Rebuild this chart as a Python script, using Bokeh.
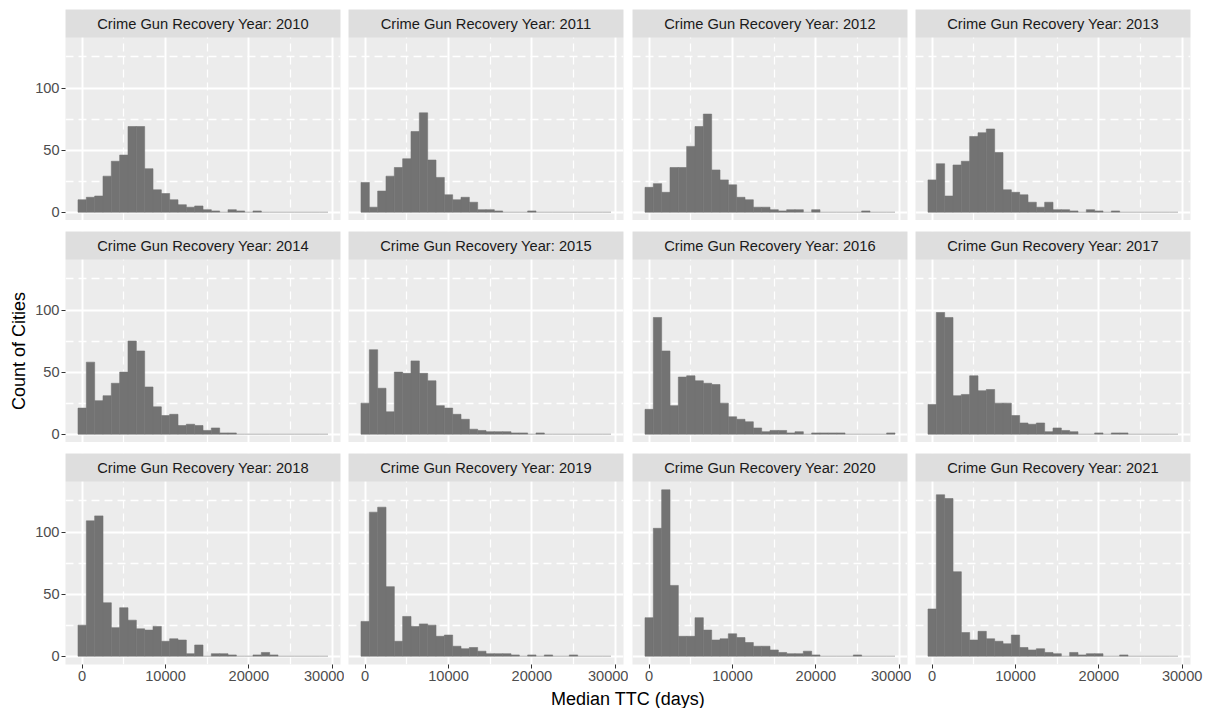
import numpy as np
from bokeh.plotting import figure
from bokeh.layouts import gridplot, column, row
from bokeh.models import FixedTicker, BoxAnnotation, Label, Range1d, ColumnDataSource
from bokeh.embed import file_html
from bokeh.resources import INLINE

# ---------------- data ----------------
YEARS = [2010, 2011, 2012, 2013, 2014, 2015, 2016, 2017, 2018, 2019, 2020, 2021]

BIN_WIDTH = 1000
BIN_CENTERS = list(range(0, 30000, BIN_WIDTH))  # 30 bins, centred on 0 ... 29000

COUNTS_2010 = [10, 12, 13, 29, 41, 46, 69, 69, 35, 18, 15, 10, 6, 4, 5, 2, 1, 0, 2, 1, 0, 1, 0, 0, 0, 0, 0, 0, 0, 0]
COUNTS_2011 = [24, 4, 17, 29, 36, 43, 65, 80, 42, 28, 14, 10, 12, 8, 2, 2, 1, 0, 0, 0, 1, 0, 0, 0, 0, 0, 0, 0, 0, 0]
COUNTS_2012 = [20, 23, 16, 36, 36, 53, 69, 79, 34, 26, 22, 12, 10, 4, 4, 2, 1, 2, 2, 0, 2, 0, 0, 0, 0, 0, 1, 0, 0, 0]
COUNTS_2013 = [26, 39, 13, 38, 41, 61, 64, 67, 48, 18, 16, 14, 8, 4, 8, 2, 2, 1, 0, 2, 1, 0, 1, 0, 0, 0, 0, 0, 0, 0]
COUNTS_2014 = [21, 58, 27, 31, 41, 50, 75, 67, 38, 22, 15, 16, 7, 8, 7, 3, 5, 1, 1, 0, 0, 0, 0, 0, 0, 0, 0, 0, 0, 0]
COUNTS_2015 = [25, 68, 37, 18, 50, 49, 59, 49, 43, 23, 21, 16, 12, 4, 3, 2, 2, 2, 1, 1, 0, 1, 0, 0, 0, 0, 0, 0, 0, 0]
COUNTS_2016 = [20, 94, 67, 23, 46, 47, 43, 41, 40, 25, 14, 12, 10, 5, 2, 3, 3, 1, 2, 0, 1, 1, 1, 1, 0, 0, 0, 0, 0, 1]
COUNTS_2017 = [24, 98, 94, 31, 32, 47, 35, 36, 25, 25, 15, 9, 8, 9, 2, 5, 3, 2, 0, 0, 1, 0, 1, 1, 0, 0, 0, 0, 0, 0]
COUNTS_2018 = [25, 109, 113, 43, 23, 39, 29, 22, 21, 24, 12, 14, 13, 2, 9, 0, 2, 2, 1, 0, 0, 1, 3, 1, 0, 0, 0, 0, 0, 0]
COUNTS_2019 = [28, 116, 120, 56, 12, 32, 24, 26, 25, 16, 17, 8, 6, 7, 4, 2, 2, 2, 1, 0, 1, 0, 1, 0, 0, 1, 0, 0, 0, 0]
COUNTS_2020 = [31, 103, 134, 57, 16, 16, 31, 21, 13, 14, 18, 15, 11, 8, 8, 5, 3, 2, 2, 4, 1, 0, 0, 0, 0, 1, 0, 0, 0, 0]
COUNTS_2021 = [38, 130, 127, 68, 19, 13, 20, 14, 12, 10, 17, 7, 5, 6, 3, 2, 0, 3, 1, 2, 2, 0, 0, 1, 0, 0, 0, 0, 0, 0]

ALL_COUNTS = [COUNTS_2010, COUNTS_2011, COUNTS_2012, COUNTS_2013, COUNTS_2014, COUNTS_2015,
              COUNTS_2016, COUNTS_2017, COUNTS_2018, COUNTS_2019, COUNTS_2020, COUNTS_2021]

STRIP_PREFIX = "Crime Gun Recovery Year: "
X_TITLE = "Median TTC (days)"
Y_TITLE = "Count of Cities"

X_TICKS = [0, 10000, 20000, 30000]
X_TICK_LABELS = ["0", "10000", "20000", "30000"]
X_MINOR = [5000, 15000, 25000]
Y_TICKS = [0, 50, 100]
Y_TICK_LABELS = ["0", "50", "100"]
Y_MINOR = [25, 75, 125]

# ---------------- style ----------------
FONT = "Liberation Sans"
PANEL_BG = "#ececec"
STRIP_BG = "#dedede"
BAR_COLOR = "#737373"
TICK_COLOR = "#333333"
TICK_LABEL_COLOR = "#4d4d4d"
TICK_FONT = "14.6px"
STRIP_FONT = "14.7px"
TITLE_FONT = "18px"

FRAME_W = 275
STRIP_PX = 28
PANEL_PX = 183
FRAME_H = STRIP_PX + PANEL_PX
YTITLE_W = 30
LEFT_BORDERS = [35, 4, 4, 4]
RIGHT_BORDERS = [4, 5, 4, 20]
TOP_BORDERS = [9, 11, 11]
BOTTOM_BORDERS = [0, 0, 24]
XTITLE_H = 20

# scales (ggplot-like 5% expansion)
edges_lo = BIN_CENTERS[0] - BIN_WIDTH / 2
edges_hi = BIN_CENTERS[-1] + BIN_WIDTH / 2
x_pad = 0.05 * (edges_hi - edges_lo)
x_lo, x_hi = edges_lo - x_pad, edges_hi + x_pad

ymax = max(max(c) for c in ALL_COUNTS)
y_lo, y_hi = -0.05 * ymax, 1.05 * ymax
px_per_count = PANEL_PX / (y_hi - y_lo)
y_top = y_hi + STRIP_PX / px_per_count

figs = []
for i, (year, counts) in enumerate(zip(YEARS, ALL_COUNTS)):
    r, c = divmod(i, 4)
    p = figure(
        frame_width=FRAME_W, frame_height=FRAME_H,
        x_range=Range1d(x_lo, x_hi), y_range=Range1d(y_lo, y_top),
        output_backend="svg", toolbar_location=None,
        x_axis_location="below" if r == 2 else None,
        y_axis_location="left" if c == 0 else None,
        min_border_left=LEFT_BORDERS[c], min_border_right=RIGHT_BORDERS[c],
        min_border_top=TOP_BORDERS[r], min_border_bottom=BOTTOM_BORDERS[r],
        background_fill_color=PANEL_BG, border_fill_color="white",
        outline_line_color=None,
    )

    # grid
    for g, ticks, minor in ((p.xgrid, X_TICKS, X_MINOR), (p.ygrid, Y_TICKS, Y_MINOR)):
        g.ticker = FixedTicker(ticks=ticks, minor_ticks=minor)
        g.grid_line_color = "white"
        g.grid_line_width = 2.0
        g.minor_grid_line_color = "white"
        g.minor_grid_line_width = 1.3
        g.minor_grid_line_dash = "8 5"

    # bars
    left = [bc - BIN_WIDTH / 2 for bc in BIN_CENTERS]
    right = [bc + BIN_WIDTH / 2 for bc in BIN_CENTERS]
    nz = [k for k, v in enumerate(counts) if v > 0]
    z = [k for k, v in enumerate(counts) if v == 0]
    src_nz = ColumnDataSource(dict(left=[left[k] for k in nz], right=[right[k] for k in nz],
                                   top=[counts[k] for k in nz], bottom=[0] * len(nz)))
    src_z = ColumnDataSource(dict(left=[left[k] for k in z], right=[right[k] for k in z],
                                  top=[counts[k] for k in z], bottom=[0] * len(z)))
    p.quad(left="left", right="right", top="top", bottom="bottom", source=src_z,
           fill_color=BAR_COLOR, line_color=BAR_COLOR, line_alpha=0.3, line_width=1)
    p.quad(left="left", right="right", top="top", bottom="bottom", source=src_nz,
           fill_color=BAR_COLOR, line_color=BAR_COLOR, line_width=0.6)

    # strip
    p.add_layout(BoxAnnotation(bottom=y_hi, top=y_top, fill_color=STRIP_BG, fill_alpha=1.0,
                               line_color=None))
    p.add_layout(Label(x=(x_lo + x_hi) / 2, y=(y_hi + y_top) / 2, text=f"{STRIP_PREFIX}{year}",
                       text_align="center", text_baseline="middle", text_font=FONT,
                       text_font_size=STRIP_FONT, text_color="#1a1a1a"))

    # axes
    if r == 2:
        ax = p.xaxis[0]
        ax.ticker = FixedTicker(ticks=X_TICKS)
        ax.major_label_overrides = dict(zip(X_TICKS, X_TICK_LABELS))
    if c == 0:
        ay = p.yaxis[0]
        ay.ticker = FixedTicker(ticks=Y_TICKS)
        ay.major_label_overrides = dict(zip(Y_TICKS, Y_TICK_LABELS))
    for ax in p.axis:
        ax.axis_line_color = None
        ax.major_tick_line_color = TICK_COLOR
        ax.major_tick_line_width = 1
        ax.major_tick_out = 4
        ax.major_tick_in = 0
        ax.minor_tick_line_color = None
        ax.major_label_text_font = FONT
        ax.major_label_text_font_size = TICK_FONT
        ax.major_label_text_color = TICK_LABEL_COLOR
        ax.major_label_standoff = 2
    figs.append(p)

grid = gridplot(figs, ncols=4, toolbar_location=None)

grid_h = sum(TOP_BORDERS) + sum(BOTTOM_BORDERS) + 3 * FRAME_H
grid_w = sum(LEFT_BORDERS) + sum(RIGHT_BORDERS) + 4 * FRAME_W


def text_fig(w, h):
    f = figure(width=w, height=h, x_range=Range1d(0, w), y_range=Range1d(0, h),
               output_backend="svg", toolbar_location=None, x_axis_location=None,
               y_axis_location=None, min_border=0, outline_line_color=None,
               background_fill_color="white", border_fill_color="white")
    f.xgrid.visible = False
    f.ygrid.visible = False
    return f


# y-axis title: centred on the panel area (below the first strip)
panel_top = TOP_BORDERS[0] + STRIP_PX
panel_bottom = grid_h - BOTTOM_BORDERS[2]
yf = text_fig(YTITLE_W, grid_h)
yf.add_layout(Label(x=YTITLE_W - 12, y=grid_h - (panel_top + panel_bottom) / 2, text=Y_TITLE,
                    angle=np.pi / 2, text_align="center", text_baseline="middle",
                    text_font=FONT, text_font_size=TITLE_FONT, text_color="black"))

# x-axis title: centred on the panel columns
total_w = YTITLE_W + grid_w
panels_left = YTITLE_W + LEFT_BORDERS[0]
panels_right = panels_left + 4 * FRAME_W + sum(RIGHT_BORDERS[:3]) + sum(LEFT_BORDERS[1:])
xf = text_fig(total_w, XTITLE_H)
xf.add_layout(Label(x=(panels_left + panels_right) / 2, y=XTITLE_H / 2, text=X_TITLE,
                    text_align="center", text_baseline="middle", text_font=FONT,
                    text_font_size=TITLE_FONT, text_color="black"))

layout = column(row(yf, grid), xf)
open("out.html", "w").write(file_html(layout, INLINE))
